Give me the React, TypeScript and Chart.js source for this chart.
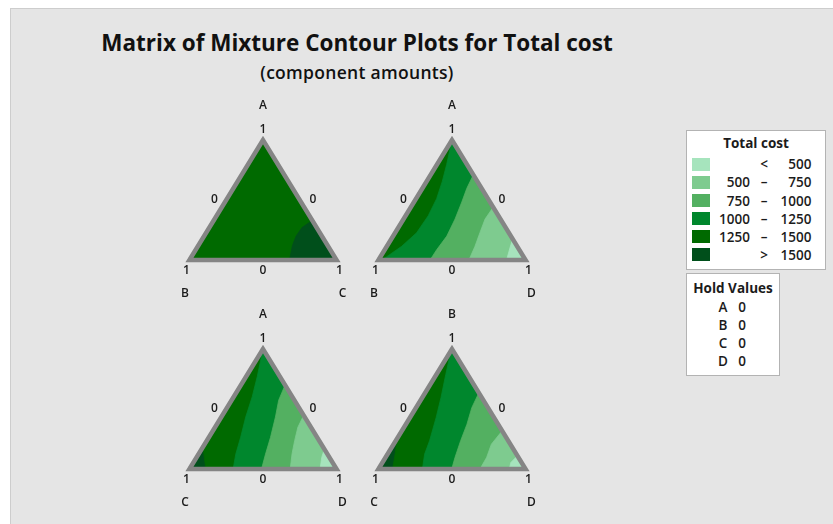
import React, { useEffect, useRef } from 'react';
import { Chart, registerables } from 'chart.js';

Chart.register(...registerables);

// A point in a ternary panel: [top, left, right] component fractions.
type Tern = [number, number, number];

// Total cost bands, lowest first
const bandLow: (number | null)[] = [null, 500, 750, 1000, 1250, 1500];
const bandHigh: (number | null)[] = [500, 750, 1000, 1250, 1500, null];
const bandColors = ['#a6e4bd', '#7ecb8f', '#53b061', '#00872d', '#006a00', '#004f1b'];

const holdComponents = ['A', 'B', 'C', 'D'];
const holdValues = [0, 0, 0, 0];

const vertexTick = '1';
const edgeTick = '0';

// Contour lines of Total cost, per panel (top, left, right components)
// A-B-C panel
const abc1500: Tern[] = [[0.33, 0, 0.67], [0.27, 0.1, 0.63], [0.2, 0.175, 0.625], [0.12, 0.24, 0.64], [0, 0.32, 0.68]];

// A-B-D panel
const abd1250: Tern[] = [[1, 0, 0], [0.795, 0.139, 0.066], [0.653, 0.24, 0.107], [0.511, 0.349, 0.14], [0.369, 0.477, 0.154], [0.227, 0.627, 0.146], [0.114, 0.785, 0.101], [0.028, 0.929, 0.043], [0, 0.98, 0.02]];
const abd1000: Tern[] = [[0.71, 0, 0.29], [0.597, 0.101, 0.302], [0.483, 0.192, 0.325], [0.341, 0.309, 0.35], [0.199, 0.436, 0.365], [0.085, 0.562, 0.353], [0, 0.649, 0.351]];
const abd750: Tern[] = [[0.44, 0, 0.56], [0.341, 0.105, 0.554], [0.227, 0.197, 0.576], [0.114, 0.287, 0.599], [0, 0.385, 0.615]];
const abd500: Tern[] = [[0.176, 0, 0.824], [0.099, 0.057, 0.844], [0, 0.129, 0.871]];

// A-C-D panel
const acd1500: Tern[] = [[0.185, 0.815, 0], [0.096, 0.851, 0.053], [0, 0.888, 0.112]];
const acd1250: Tern[] = [[1, 0, 0], [0.77, 0.154, 0.076], [0.601, 0.273, 0.126], [0.433, 0.401, 0.166], [0.264, 0.52, 0.216], [0.124, 0.623, 0.253], [0, 0.703, 0.297]];
const acd1000: Tern[] = [[0.7, 0, 0.3], [0.573, 0.107, 0.32], [0.433, 0.199, 0.368], [0.264, 0.317, 0.419], [0.124, 0.421, 0.455], [0, 0.51, 0.49]];
const acd750: Tern[] = [[0.447, 0, 0.553], [0.348, 0.089, 0.563], [0.236, 0.167, 0.597], [0.124, 0.241, 0.635], [0, 0.315, 0.685]];
const acd500: Tern[] = [[0.166, 0, 0.834], [0.096, 0.053, 0.851], [0, 0.112, 0.888]];

// B-C-D panel
const bcd1500: Tern[] = [[0.25, 0.75, 0], [0.138, 0.816, 0.046], [0, 0.903, 0.097]];
const bcd1250: Tern[] = [[1, 0, 0], [0.912, 0.064, 0.024], [0.787, 0.149, 0.064], [0.594, 0.278, 0.128], [0.428, 0.394, 0.178], [0.235, 0.535, 0.23], [0.124, 0.624, 0.252], [0, 0.701, 0.299]];
const bcd1000: Tern[] = [[0.635, 0, 0.365], [0.511, 0.11, 0.379], [0.373, 0.212, 0.415], [0.235, 0.324, 0.441], [0.097, 0.431, 0.472], [0, 0.502, 0.498]];
const bcd750: Tern[] = [[0.318, 0, 0.682], [0.207, 0.129, 0.664], [0.097, 0.216, 0.687], [0, 0.31, 0.69]];
const bcd500: Tern[] = [[0.11, 0, 0.89], [0.055, 0.072, 0.873], [0, 0.111, 0.889]];

type Layer = { band: number; line: Tern[] };
type Panel = { comps: string[]; fillBand: number; layers: Layer[] };

const panels: Panel[] = [
  { comps: ['A', 'B', 'C'], fillBand: 4, layers: [{ band: 5, line: abc1500 }] },
  {
    comps: ['A', 'B', 'D'], fillBand: 4,
    layers: [{ band: 3, line: abd1250 }, { band: 2, line: abd1000 }, { band: 1, line: abd750 }, { band: 0, line: abd500 }],
  },
  {
    comps: ['A', 'C', 'D'], fillBand: 5,
    layers: [{ band: 4, line: acd1500 }, { band: 3, line: acd1250 }, { band: 2, line: acd1000 }, { band: 1, line: acd750 }, { band: 0, line: acd500 }],
  },
  {
    comps: ['B', 'C', 'D'], fillBand: 5,
    layers: [{ band: 4, line: bcd1500 }, { band: 3, line: bcd1250 }, { band: 2, line: bcd1000 }, { band: 1, line: bcd750 }, { band: 0, line: bcd500 }],
  },
];

const panelBoxes = [
  { left: 160, top: 92 },
  { left: 349, top: 92 },
  { left: 160, top: 301 },
  { left: 349, top: 301 },
];

const APEX: Tern = [1, 0, 0];
const LEFT: Tern = [0, 1, 0];
const RIGHT: Tern = [0, 0, 1];
const CORNERS = [LEFT, RIGHT, APEX]; // perimeter positions 0, 1, 2

const toXY = (p: Tern) => ({ x: p[2] + p[0] / 2, y: p[0] });

// position along the triangle perimeter, counter-clockwise from the left corner
function perimeter(p: Tern): number {
  const [t, l, r] = p;
  if (t >= 0.999) return 2;
  if (t <= 0.001) return r;
  if (l <= 0.001) return 1 + t;
  return 3 - t;
}

// closes a contour line into the region lying counter-clockwise of its end point
function closeRegion(line: Tern[]): Tern[] {
  const sEnd = perimeter(line[line.length - 1]);
  let sStart = perimeter(line[0]);
  if (sStart <= sEnd) sStart += 3;
  const pts = [...line];
  for (let k = Math.floor(sEnd) + 1; k < sStart - 1e-6; k++) pts.push(CORNERS[k % 3]);
  return pts;
}

const FONT = '"Open Sans", "Noto Sans", sans-serif';

function TernaryPanel({ panel, left, top }: { panel: Panel; left: number; top: number }) {
  const ref = useRef<HTMLCanvasElement>(null);

  useEffect(() => {
    const shapes = [
      { band: panel.fillBand, pts: [APEX, LEFT, RIGHT] },
      ...panel.layers.map((l) => ({ band: l.band, pts: closeRegion(l.line) })),
    ];
    const n = shapes.length + 1;
    const datasets: any[] = shapes.map((s, i) => ({
      data: s.pts.map(toXY),
      showLine: true,
      fill: 'shape',
      backgroundColor: bandColors[s.band],
      borderColor: bandColors[s.band],
      borderWidth: 0.8,
      pointRadius: 0,
      order: n - i,
    }));
    datasets.push({
      data: [APEX, LEFT, RIGHT, APEX, LEFT].map(toXY),
      showLine: true,
      fill: false,
      borderColor: '#858585',
      borderWidth: 4.5,
      borderJoinStyle: 'miter',
      pointRadius: 0,
      order: 0,
    });

    const [cTop, cLeft, cRight] = panel.comps;
    const labels = [
      { text: cTop, x: 0.5, y: 1.29 },
      { text: vertexTick, x: 0.5, y: 1.09 },
      { text: edgeTick, x: 0.17, y: 0.5 },
      { text: edgeTick, x: 0.84, y: 0.5 },
      { text: vertexTick, x: -0.02, y: -0.092 },
      { text: edgeTick, x: 0.5, y: -0.092 },
      { text: vertexTick, x: 1.02, y: -0.092 },
      { text: cLeft, x: -0.03, y: -0.28 },
      { text: cRight, x: 1.04, y: -0.28 },
    ];

    const labelPlugin = {
      id: 'ternaryLabels',
      afterDatasetsDraw(chart: any) {
        const { ctx, scales } = chart;
        ctx.save();
        ctx.fillStyle = '#1b1b1b';
        ctx.textAlign = 'center';
        ctx.textBaseline = 'middle';
        ctx.font = `600 12px ${FONT}`;
        for (const lab of labels) {
          ctx.fillText(lab.text, scales.x.getPixelForValue(lab.x), scales.y.getPixelForValue(lab.y));
        }
        ctx.restore();
      },
    };

    const chart = new Chart(ref.current!, {
      type: 'scatter',
      data: { datasets },
      options: {
        indexAxis: 'y',
        responsive: false,
        animation: false,
        events: [],
        layout: { padding: 0 },
        plugins: { legend: { display: false }, tooltip: { enabled: false }, title: { display: false } },
        scales: {
          x: { type: 'linear', min: -0.2, max: 1.2, display: false },
          y: { type: 'linear', min: -0.4, max: 1.4, display: false },
        },
      } as any,
      plugins: [labelPlugin],
    });
    return () => chart.destroy();
  }, [panel]);

  return (
    <canvas
      ref={ref}
      width={206}
      height={216}
      style={{ position: 'absolute', left, top, width: 206, height: 216, display: 'block' }}
    />
  );
}

const legendText: React.CSSProperties = {
  position: 'absolute',
  fontFamily: FONT,
  fontWeight: 600,
  fontSize: 13.5,
  lineHeight: '18px',
  color: '#1b1b1b',
  whiteSpace: 'nowrap',
};

export default function App() {
  return (
    <div style={{ position: 'fixed', left: 0, top: 0, width: 833, height: 524, background: '#ffffff', overflow: 'hidden' }}>
      <div
        style={{
          position: 'absolute', left: 10, top: 8, width: 840, height: 540,
          background: '#e5e5e5', borderLeft: '1px solid #cdcdcd', borderTop: '1px solid #cdcdcd',
        }}
      />
      <div
        style={{
          position: 'absolute', left: 0, width: 714, top: 28, textAlign: 'center',
          fontFamily: FONT, fontWeight: 700, fontSize: 22.5, lineHeight: '30px', color: '#111',
        }}
      >
        Matrix of Mixture Contour Plots for Total cost
      </div>
      <div
        style={{
          position: 'absolute', left: 0, width: 714, top: 60, textAlign: 'center',
          fontFamily: FONT, fontWeight: 600, fontSize: 17.5, lineHeight: '24px', letterSpacing: 0.3, color: '#111',
        }}
      >
        (component amounts)
      </div>

      {panels.map((p, i) => (
        <TernaryPanel key={i} panel={p} left={panelBoxes[i].left} top={panelBoxes[i].top} />
      ))}

      {/* Total cost legend */}
      <div
        style={{
          position: 'absolute', left: 686, top: 130, width: 140, height: 140, boxSizing: 'border-box',
          background: '#ffffff', border: '1px solid #b3b3b3',
        }}
      >
        <div style={{ ...legendText, left: 0, width: 138, top: 3, textAlign: 'center', fontWeight: 700 }}>Total cost</div>
        {bandColors.map((c, i) => {
          const cy = 33.3 + i * 18.1;
          const lo = bandLow[i];
          const hi = bandHigh[i];
          const sign = lo === null ? '<' : hi === null ? '>' : '–';
          const right = hi !== null ? hi : lo;
          return (
            <React.Fragment key={i}>
              <div style={{ position: 'absolute', left: 5, top: cy - 6.5, width: 18, height: 13, background: c }} />
              {lo !== null && hi !== null && (
                <div style={{ ...legendText, left: 18, width: 45, top: cy - 9, textAlign: 'right' }}>{lo}</div>
              )}
              <div style={{ ...legendText, left: 70, width: 14, top: cy - 9, textAlign: 'center' }}>{sign}</div>
              <div style={{ ...legendText, left: 80, width: 44.5, top: cy - 9, textAlign: 'right' }}>{right}</div>
            </React.Fragment>
          );
        })}
      </div>

      {/* Hold values */}
      <div
        style={{
          position: 'absolute', left: 686, top: 273, width: 94, height: 103, boxSizing: 'border-box',
          background: '#ffffff', border: '1px solid #b3b3b3',
        }}
      >
        <div style={{ ...legendText, left: 0, width: 92, top: 4.7, textAlign: 'center', fontWeight: 700 }}>Hold Values</div>
        {holdComponents.map((c, i) => {
          const cy = 32.7 + i * 18.2;
          return (
            <React.Fragment key={c}>
              <div style={{ ...legendText, left: 28, width: 16, top: cy - 9, textAlign: 'center' }}>{c}</div>
              <div style={{ ...legendText, left: 47, width: 16, top: cy - 9, textAlign: 'center' }}>{holdValues[i]}</div>
            </React.Fragment>
          );
        })}
      </div>
    </div>
  );
}
